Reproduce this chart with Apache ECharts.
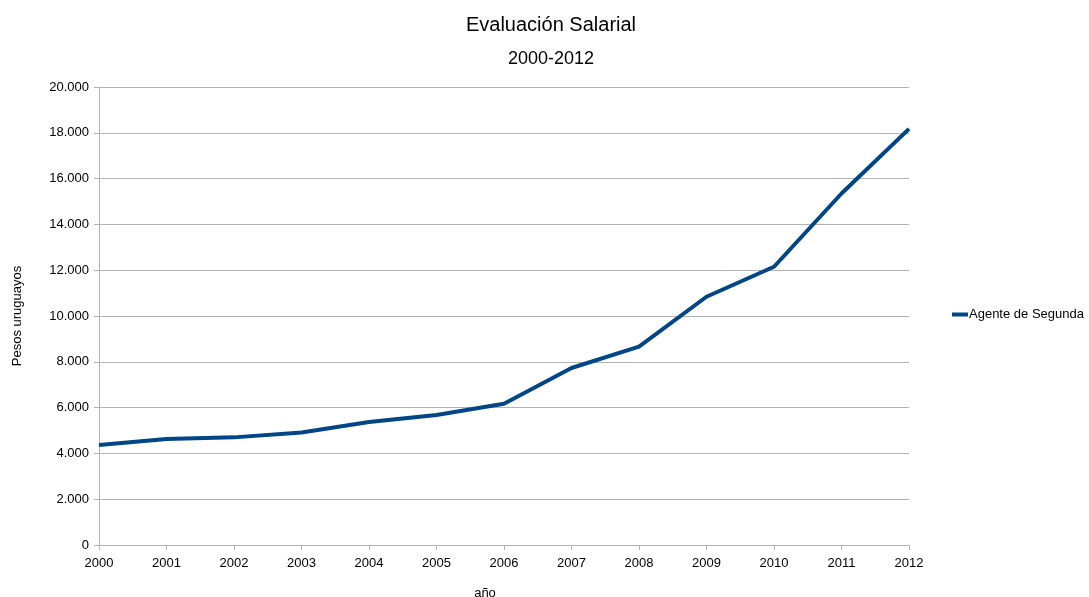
<!DOCTYPE html>
<html>
<head>
<meta charset="utf-8">
<script src="https://cdn.jsdelivr.net/npm/echarts@6/dist/echarts.min.js"></script>
<style>html,body{margin:0;padding:0;background:#fff}#c{width:1089px;height:597px}</style>
</head>
<body>
<div id="c"></div>
<script>
const years = ['2000','2001','2002','2003','2004','2005','2006','2007','2008','2009','2010','2011','2012'];
const agenteDeSegunda = [4370, 4630, 4700, 4910, 5370, 5680, 6170, 7730, 8660, 10840, 12150, 15350, 18170];
const seriesName = 'Agente de Segunda';
const titleText = 'Evaluación Salarial';
const subtitleText = '2000-2012';
const yAxisTitle = 'Pesos uruguayos';
const xAxisTitle = 'año';

const FONT = '"Liberation Sans", Arial, sans-serif';
const chart = echarts.init(document.getElementById('c'), null, {renderer: 'canvas'});
chart.setOption({
  animation: false,
  backgroundColor: '#ffffff',
  textStyle: {fontFamily: FONT},
  title: [
    {text: titleText, left: 551, top: 15, textAlign: 'center', padding: 0,
     textStyle: {fontFamily: FONT, fontSize: 20, fontWeight: 'normal', color: '#000'}},
    {text: subtitleText, left: 551, top: 50, textAlign: 'center', padding: 0,
     textStyle: {fontFamily: FONT, fontSize: 18, fontWeight: 'normal', color: '#000'}}
  ],
  legend: {
    orient: 'vertical', left: 952, top: 308, padding: 0,
    icon: 'rect', itemWidth: 16, itemHeight: 4, itemGap: 6,
    textStyle: {fontFamily: FONT, fontSize: 13, color: '#000', padding: [0,0,0,-4]},
    data: [seriesName]
  },
  grid: {left: 99, right: 180, top: 87, bottom: 52, containLabel: false, outerBoundsMode: 'none'},
  xAxis: {
    type: 'category', data: years, boundaryGap: false,
    name: xAxisTitle, nameLocation: 'middle', nameGap: 42,
    nameTextStyle: {fontFamily: FONT, fontSize: 13, color: '#000', padding: [0, 38, 0, 0]},
    axisLine: {show: true, lineStyle: {color: '#b3b3b3', width: 1}},
    axisTick: {show: true, alignWithLabel: true, length: 5, lineStyle: {color: '#b3b3b3'}},
    axisLabel: {fontFamily: FONT, fontSize: 13, color: '#000', margin: 12},
    splitLine: {show: false}
  },
  yAxis: {
    type: 'value', min: 0, max: 20000, interval: 2000,
    name: yAxisTitle, nameLocation: 'middle', nameGap: 75, nameRotate: 90,
    nameTextStyle: {fontFamily: FONT, fontSize: 13, color: '#000'},
    axisLine: {show: true, lineStyle: {color: '#b3b3b3', width: 1}},
    axisTick: {show: true, length: 5, lineStyle: {color: '#b3b3b3'}},
    axisLabel: {fontFamily: FONT, fontSize: 13, color: '#000', margin: 10,
      formatter: v => v === 0 ? '0' : String(v).replace(/\B(?=(\d{3})+(?!\d))/g, '.')},
    splitLine: {show: true, lineStyle: {color: '#b3b3b3', width: 1}}
  },
  series: [{
    name: seriesName, type: 'line', data: agenteDeSegunda,
    showSymbol: false, symbol: 'none',
    lineStyle: {color: '#004586', width: 4},
    itemStyle: {color: '#004586'}
  }]
});
</script>
</body>
</html>
